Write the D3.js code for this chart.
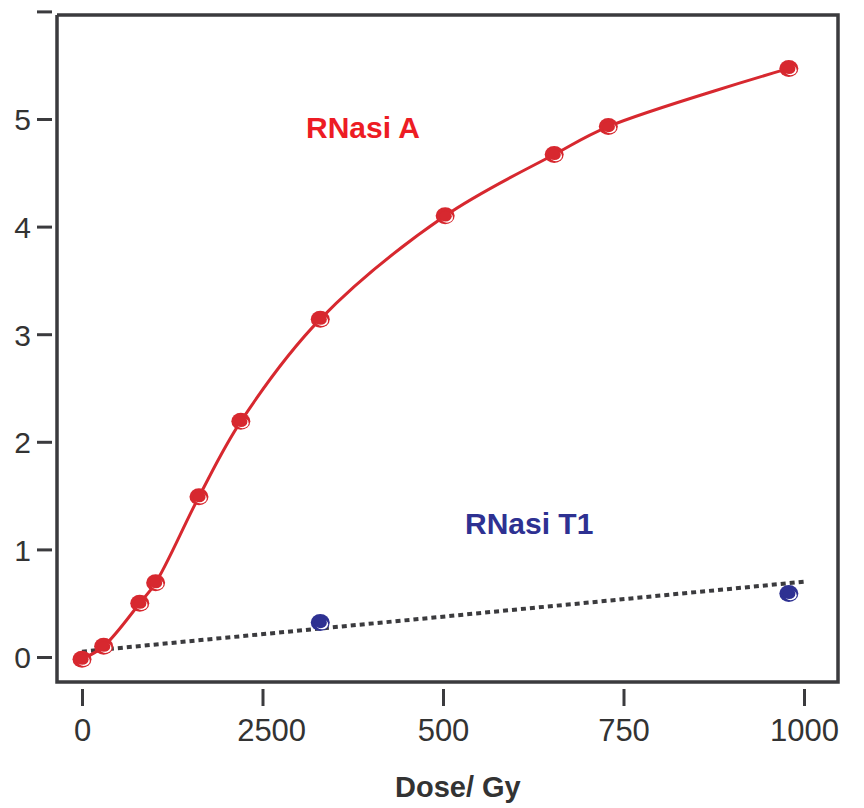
<!DOCTYPE html>
<head>
  <meta charset="utf-8">
  <script src="https://d3js.org/d3.v7.min.js"></script>
</head>
<style>
  body { margin: 0; background: #fff; }
  text { font-family: "Liberation Sans", Arial, sans-serif; }
</style>
<body>
<div id="chart"></div>
<script>
'use strict';

// RNasi A (red)
var doseA  = [0, 30, 80, 102, 162, 220, 330, 503, 654, 729, 979];
var valueA = [-0.02, 0.10, 0.50, 0.69, 1.49, 2.19, 3.14, 4.10, 4.67, 4.93, 5.47];

// RNasi T1 (blue)
var doseT1  = [330, 979];
var valueT1 = [0.32, 0.59];

// dotted fit line for T1
var fitDose  = [0, 1000];
var fitValue = [0.05, 0.70];

var xTicks = [0, 250, 500, 750, 1000];
var xTickLabels = ["0", "2500", "500", "750", "1000"];
var yTicks = [0, 1, 2, 3, 4, 5, 6];
var yTickLabels = ["0", "1", "2", "3", "4", "5", ""];

var red = "#d7282f", blue = "#2e3192", ink = "#3b3b3e";

var width = 864, height = 808;
var box = {left: 57, right: 838, top: 15, bottom: 682};

var x = d3.scaleLinear().domain([0, 1000]).range([82, 804]);
var y = d3.scaleLinear().domain([0, 5]).range([657, 119]);

var svg = d3.select("#chart").append("svg")
  .attr("width", width).attr("height", height);

// frame
svg.append("path")
  .attr("d", "M" + box.left + "," + box.top + "V" + box.bottom + "H" + box.right + "V" + box.top + "H" + box.left)
  .attr("fill", "none").attr("stroke", ink).attr("stroke-width", 3.5);

// y axis
var yAxis = svg.append("g").attr("transform", "translate(52,0)")
  .call(d3.axisLeft(y).tickValues(yTicks).tickFormat((d, i) => yTickLabels[i]).tickSize(15).tickPadding(6));
yAxis.select(".domain").remove();
yAxis.selectAll(".tick line").attr("stroke", ink).attr("stroke-width", 3);
yAxis.selectAll(".tick text").attr("fill", "#333").style("font-size", "30px").attr("dy", "0.36em");

// x axis (detached, below the frame)
var xAxis = svg.append("g").attr("transform", "translate(0,689)")
  .call(d3.axisBottom(x).tickValues(xTicks).tickFormat((d, i) => xTickLabels[i]).tickSize(17).tickPadding(6));
xAxis.select(".domain").remove();
xAxis.selectAll(".tick line").attr("stroke", ink).attr("stroke-width", 3);
// a typo'd label ("2500") keeps its first digits on the tick
xAxis.selectAll(".tick text").attr("fill", "#333").style("font-size", "31px")
  .attr("dy", "0.95em")
  .attr("dx", (d, i) => ((xTickLabels[i].length - String(d).length) * 0.278) + "em");

svg.append("text").attr("x", 395).attr("y", 797)
  .style("font-size", "29px").style("font-weight", "bold").attr("fill", "#333")
  .text("Dose/ Gy");

// dotted T1 fit
svg.append("path")
  .datum(d3.zip(fitDose, fitValue))
  .attr("d", d3.line().x(d => x(d[0])).y(d => y(d[1])))
  .attr("stroke", ink).attr("stroke-width", 4).attr("stroke-dasharray", "5,4").attr("fill", "none");

// RNasi A curve
svg.append("path")
  .datum(d3.zip(doseA, valueA))
  .attr("d", d3.line().x(d => x(d[0])).y(d => y(d[1])).curve(d3.curveCatmullRom.alpha(0.5)))
  .attr("stroke", red).attr("stroke-width", 3).attr("fill", "none");

function markers(dose, vals, color) {
  var g = svg.append("g").selectAll("g").data(d3.zip(dose, vals)).enter().append("g")
    .attr("transform", d => "translate(" + x(d[0]) + "," + y(d[1]) + ")");
  g.append("ellipse").attr("rx", 9.5).attr("ry", 8.5).attr("fill", color);
  g.append("ellipse").attr("cx", 1.8).attr("cy", 1.8).attr("rx", 6).attr("ry", 5).attr("fill", "#fff");
  g.append("ellipse").attr("cx", 0.3).attr("cy", 0.3).attr("rx", 6.3).attr("ry", 5.3).attr("fill", color);
}
markers(doseA, valueA, red);
markers(doseT1, valueT1, blue);

svg.append("text").attr("x", 306).attr("y", 138)
  .style("font-size", "30px").style("font-weight", "bold").attr("fill", "#ed1c24")
  .text("RNasi A");
svg.append("text").attr("x", 465).attr("y", 534)
  .style("font-size", "30px").style("font-weight", "bold").attr("fill", blue)
  .text("RNasi T1");
</script>
</body>
